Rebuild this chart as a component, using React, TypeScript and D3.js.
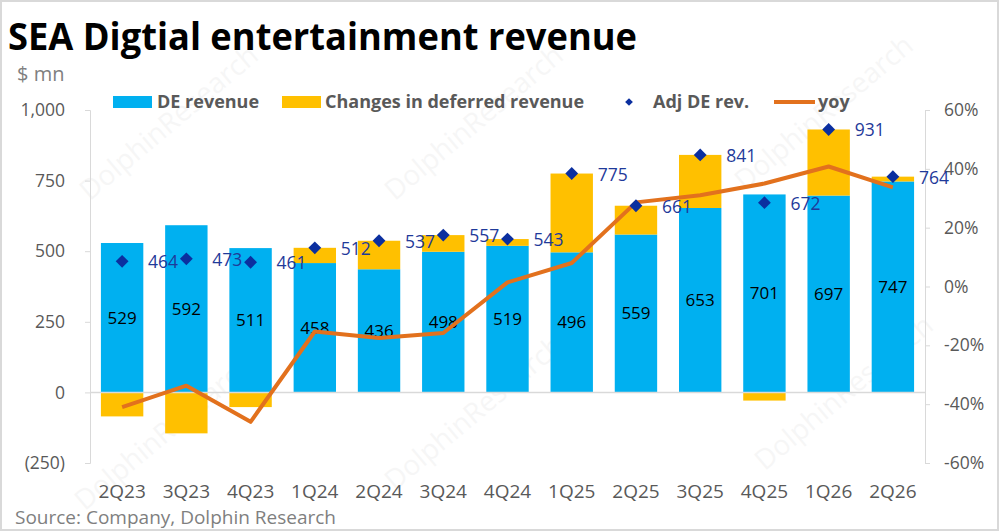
import { useEffect, useRef } from "react";
import * as d3 from "d3";

const quarters = ["2Q23", "3Q23", "4Q23", "1Q24", "2Q24", "3Q24", "4Q24", "1Q25", "2Q25", "3Q25", "4Q25", "1Q26", "2Q26"];
const deRevenue = [529, 592, 511, 458, 436, 498, 519, 496, 559, 653, 701, 697, 747];
const deferredChange = [-85, -145, -52, 54, 101, 59, 24, 279, 102, 188, -29, 234, 17];
const adjDeRev = [464, 473, 461, 512, 537, 557, 543, 775, 661, 841, 672, 931, 764];
const yoy = [-41, -33.7, -46, -15.3, -17.5, -15.8, 1.4, 8, 28.6, 31, 35, 40.8, 33.7];
const leftTicks = [-250, 0, 250, 500, 750, 1000];
const rightTicks = [-60, -40, -20, 0, 20, 40, 60];

const W = 1000;
const H = 532;
const BLUE = "#00B0F0";
const GOLD = "#FFC000";
const ORANGE = "#E2711D";
const NAVY = "#0B2F9F";
const GREY = "#595959";
const FONT = "'Open Sans', 'Noto Sans', sans-serif";

export default function App() {
  const ref = useRef<SVGSVGElement>(null);

  useEffect(() => {
    if (!ref.current) return;
    const svg = d3.select(ref.current);
    svg.selectAll("*").remove();

    // frame
    svg.append("rect").attr("x", 1).attr("y", 1).attr("width", W - 3).attr("height", H - 3)
      .attr("fill", "white").attr("stroke", "#d9d9d9").attr("stroke-width", 2);

    const x = d3.scaleBand<string>().domain(quarters).range([90, 925]).paddingInner(0.34).paddingOuter(0.17);
    const y = d3.scaleLinear().domain([-250, 1000]).range([463, 110]);
    const y2 = d3.scaleLinear().domain([-60, 60]).range([463, 110]);

    // faint watermarks
    const marks = [[175, 130], [480, 130], [830, 120], [170, 440], [480, 420], [850, 400]];
    marks.forEach(([mx, my]) =>
      svg.append("text").attr("transform", `translate(${mx},${my}) rotate(-40)`)
        .attr("text-anchor", "middle").attr("font-family", FONT).attr("font-size", 28)
        .attr("fill", "#000").attr("opacity", 0.03).text("DolphinResearch")
    );

    // title
    svg.append("text").attr("x", 8).attr("y", 50).attr("font-family", FONT).attr("font-weight", 700)
      .attr("font-size", 38).attr("textLength", 629).attr("lengthAdjust", "spacingAndGlyphs")
      .attr("fill", "#000").text("SEA Digtial entertainment revenue");
    svg.append("text").attr("x", 17).attr("y", 81).attr("font-family", FONT).attr("font-size", 20)
      .attr("fill", "#7f7f7f").text("$ mn");

    // axes
    const gl = svg.append("g").attr("transform", "translate(90,0)")
      .call(d3.axisLeft(y).tickValues(leftTicks).tickSize(5).tickPadding(20)
        .tickFormat((d) => { const v = +d; return v < 0 ? `(${d3.format(",")(-v)})` : d3.format(",")(v); }));
    const gr = svg.append("g").attr("transform", "translate(925,0)")
      .call(d3.axisRight(y2).tickValues(rightTicks).tickSize(5).tickPadding(14).tickFormat((d) => `${d}%`));
    [gl, gr].forEach((g) => {
      g.select(".domain").attr("stroke", "#d9d9d9");
      g.selectAll(".tick line").attr("stroke", "#d9d9d9");
      g.selectAll(".tick text").attr("font-family", FONT).attr("font-size", 17.5).attr("fill", GREY);
    });

    // bars
    const bw = x.bandwidth();
    svg.append("g").selectAll("rect").data(quarters).join("rect")
      .attr("x", (d) => x(d)!).attr("width", bw)
      .attr("y", (_, i) => y(deRevenue[i])).attr("height", (_, i) => y(0) - y(deRevenue[i]))
      .attr("fill", BLUE);
    svg.append("g").selectAll("rect").data(quarters).join("rect")
      .attr("x", (d) => x(d)!).attr("width", bw)
      .attr("y", (_, i) => deferredChange[i] >= 0 ? y(deRevenue[i] + deferredChange[i]) : y(0))
      .attr("height", (_, i) => Math.abs(y(0) - y(Math.abs(deferredChange[i]))))
      .attr("fill", GOLD);

    // zero line
    svg.append("line").attr("x1", 90).attr("x2", 925).attr("y1", y(0)).attr("y2", y(0))
      .attr("stroke", "#d9d9d9").attr("stroke-width", 1.5);

    // bar labels
    svg.append("g").selectAll("text").data(quarters).join("text")
      .attr("x", (d) => x(d)! + bw / 2).attr("y", (_, i) => y(deRevenue[i] / 2) + 6)
      .attr("text-anchor", "middle").attr("font-family", FONT).attr("font-size", 17).attr("fill", "#000")
      .text((_, i) => deRevenue[i]);

    // yoy line
    const line = d3.line<number>().x((_, i) => x(quarters[i])! + bw / 2).y((d) => y2(d));
    svg.append("path").datum(yoy).attr("d", line).attr("fill", "none")
      .attr("stroke", ORANGE).attr("stroke-width", 4).attr("stroke-linejoin", "round");

    // adj diamonds + labels
    const diamond = d3.symbol().type(d3.symbolDiamond2).size(105);
    svg.append("g").selectAll("path").data(quarters).join("path")
      .attr("d", diamond)
      .attr("transform", (d, i) => `translate(${x(d)! + bw / 2},${y(adjDeRev[i])})`)
      .attr("fill", NAVY);
    svg.append("g").selectAll("text").data(quarters).join("text")
      .attr("x", (d) => x(d)! + bw / 2 + 26).attr("y", (_, i) => y(adjDeRev[i]) + 7)
      .attr("font-family", FONT).attr("font-size", 17.5).attr("fill", "#1F3A9A")
      .text((_, i) => adjDeRev[i]);

    // x labels
    svg.append("g").selectAll("text").data(quarters).join("text")
      .attr("x", (d) => x(d)! + bw / 2).attr("y", 498)
      .attr("text-anchor", "middle").attr("font-family", FONT).attr("font-size", 19).attr("fill", GREY)
      .text((d) => d);

    // legend
    const lg = svg.append("g").attr("font-family", FONT).attr("font-size", 18).attr("font-weight", 700).attr("fill", GREY);
    lg.append("rect").attr("x", 113).attr("y", 96).attr("width", 39).attr("height", 12).attr("fill", BLUE);
    lg.append("text").attr("x", 157).attr("y", 108).text("DE revenue");
    lg.append("rect").attr("x", 282).attr("y", 96).attr("width", 39).attr("height", 12).attr("fill", GOLD);
    lg.append("text").attr("x", 325).attr("y", 108).text("Changes in deferred revenue");
    lg.append("path").attr("d", d3.symbol().type(d3.symbolDiamond2).size(38)).attr("transform", "translate(629,102)").attr("fill", NAVY);
    lg.append("text").attr("x", 653).attr("y", 108).text("Adj DE rev.");
    lg.append("line").attr("x1", 774).attr("x2", 815).attr("y1", 102).attr("y2", 102).attr("stroke", ORANGE).attr("stroke-width", 4);
    lg.append("text").attr("x", 818).attr("y", 108).text("yoy");

    // source
    svg.append("text").attr("x", 15).attr("y", 524).attr("font-family", FONT).attr("font-size", 19)
      .attr("fill", "#7f7f7f").text("Source: Company, Dolphin Research");
  }, []);

  return (
    <svg ref={ref} width={W} height={H} style={{ position: "absolute", left: 0, top: 0, display: "block" }} />
  );
}
